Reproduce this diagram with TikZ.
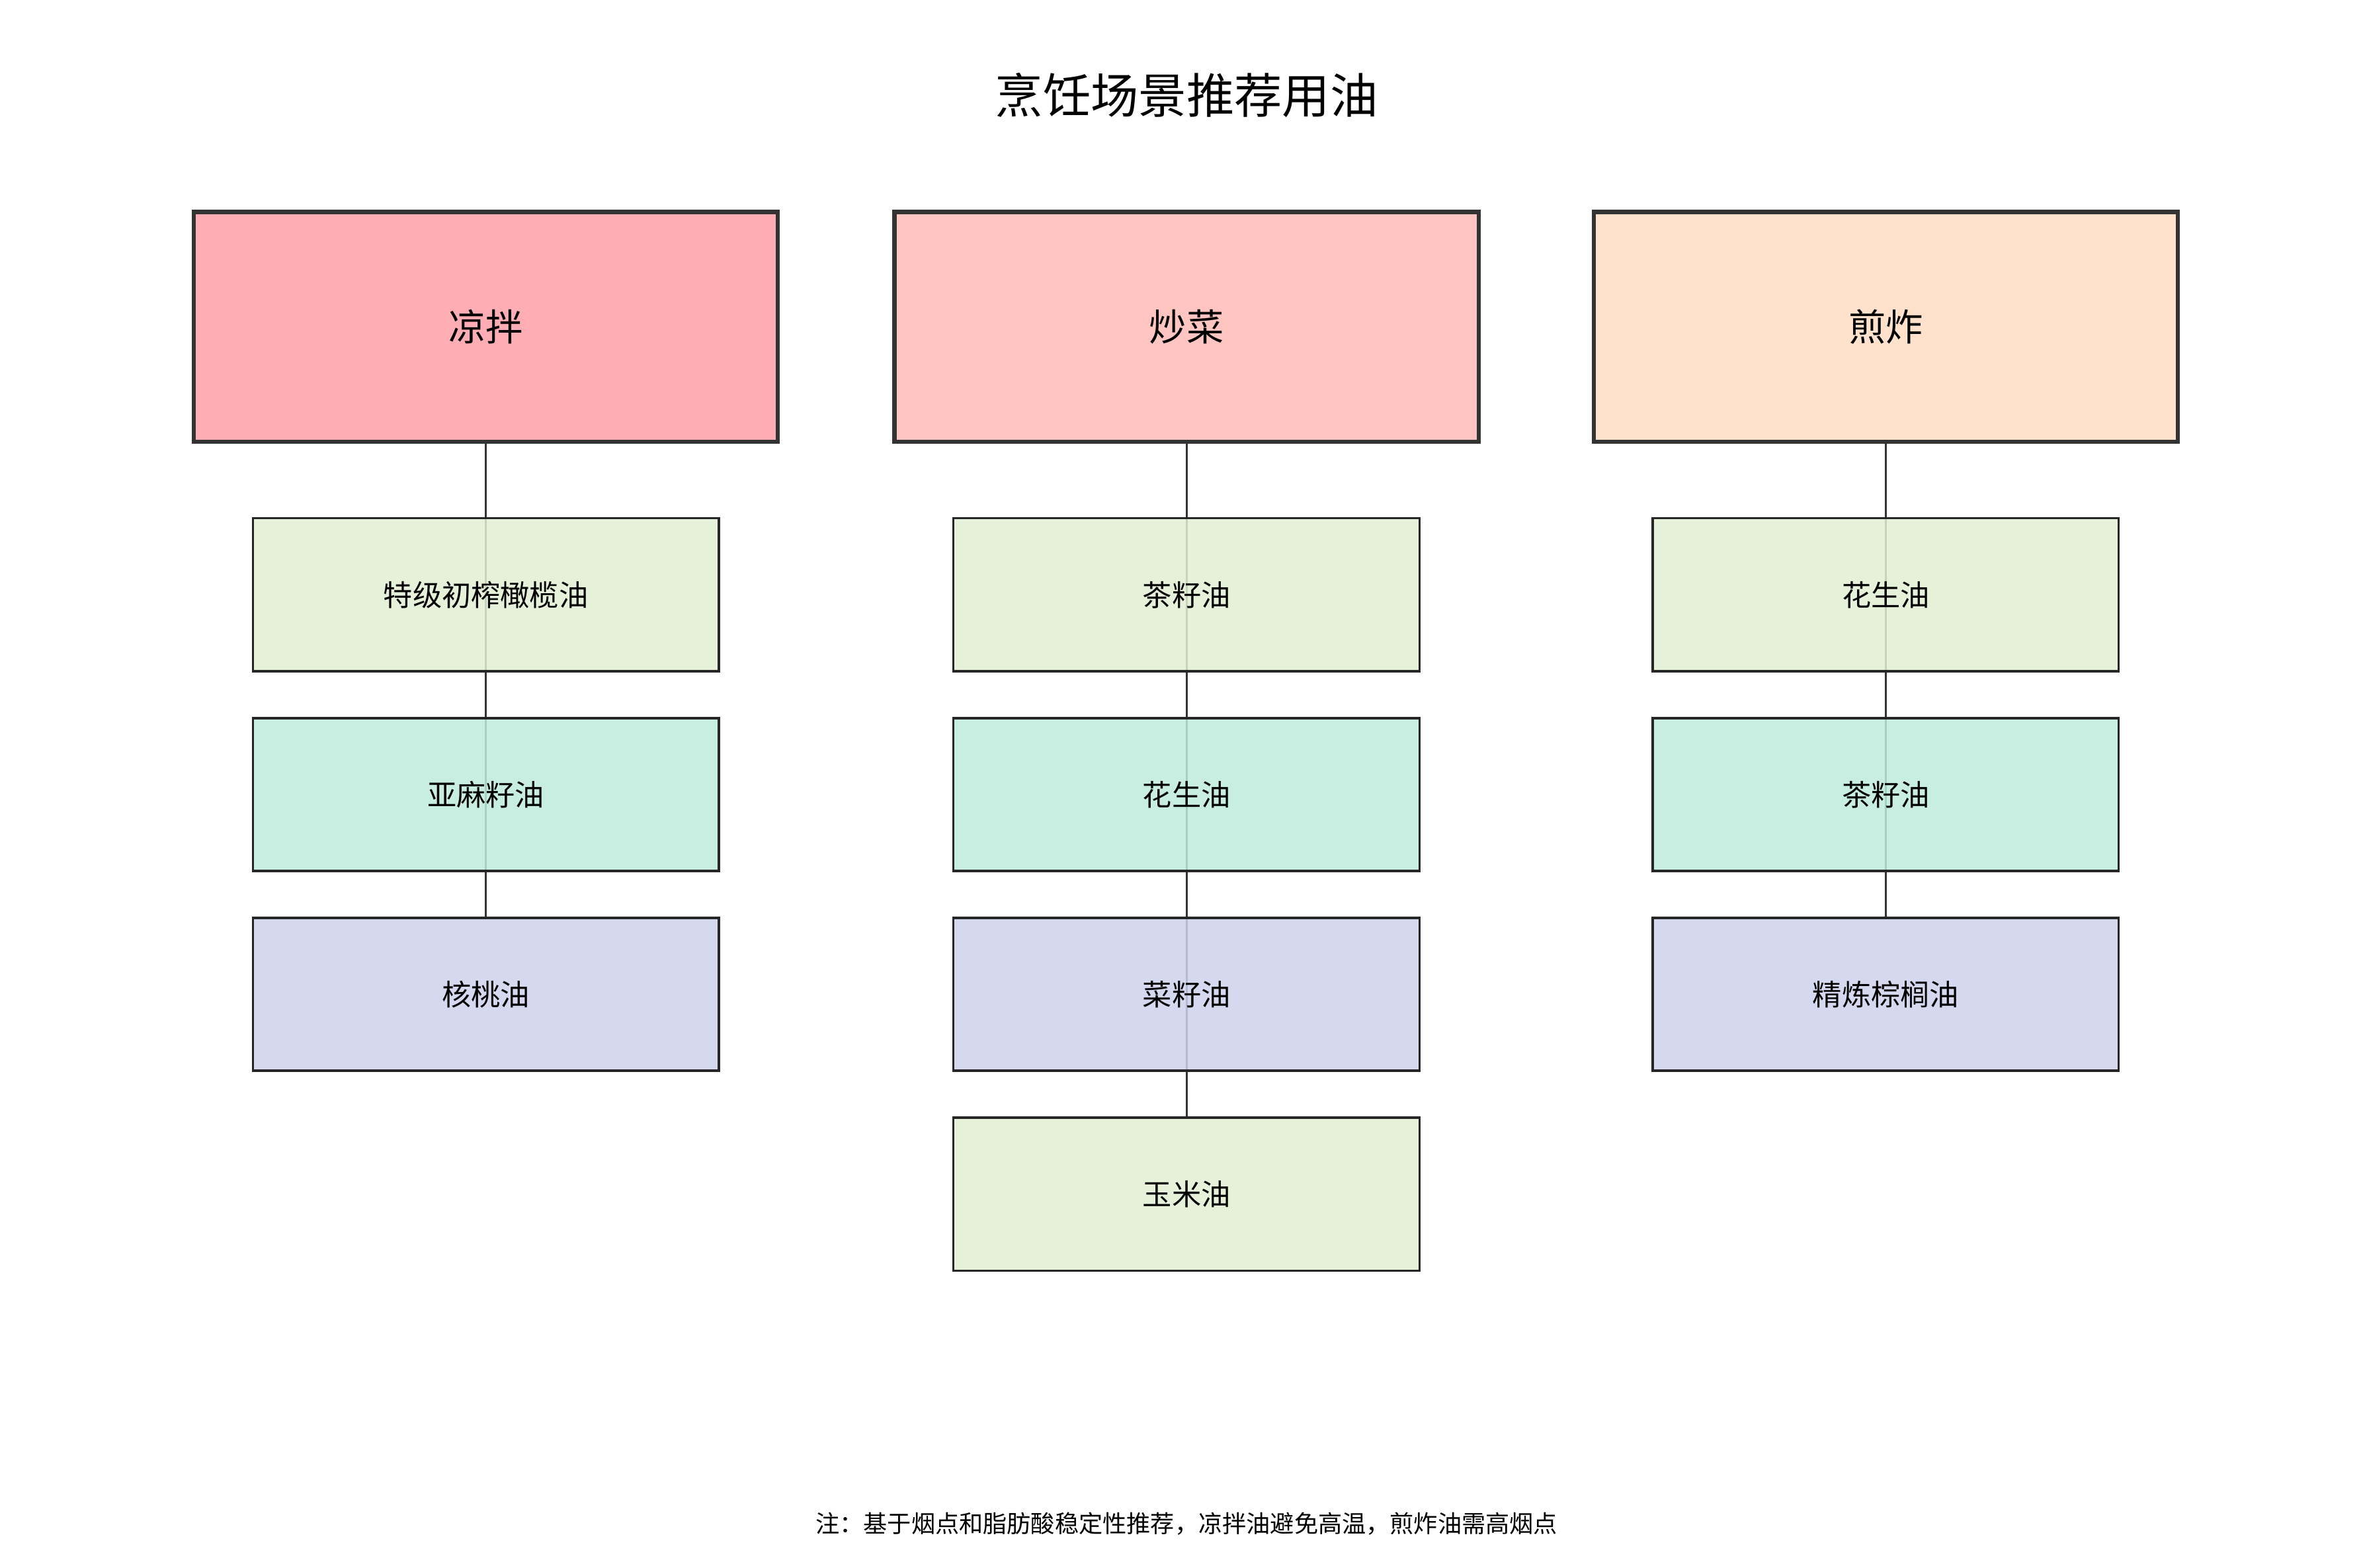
\documentclass[tikz,border=0pt]{standalone}
\usepackage{fontspec}
\setmainfont{Noto Sans CJK SC}
\definecolor{hdA}{HTML}{FFADB4}
\definecolor{hdB}{HTML}{FFC5C0}
\definecolor{hdC}{HTML}{FFE1CC}
\definecolor{oilG}{HTML}{E2EFD3}
\definecolor{oilT}{HTML}{BDEBDB}
\definecolor{oilL}{HTML}{CED2EC}
\tikzset{
  head/.style={draw=black!80, line width=1.6pt, minimum width=7.72cm, minimum height=3.04cm, font=\fontsize{14}{16}\selectfont},
  oil/.style={draw=black!85, line width=0.8pt, fill opacity=0.85, text opacity=1, minimum width=6.16cm, minimum height=2.02cm, font=\fontsize{11}{13}\selectfont},
  link/.style={draw=black!80, line width=0.8pt}
}
\begin{document}
\begin{tikzpicture}[x=0.02cm, y=-0.02cm]
\useasboundingbox (0,0) rectangle (1560,1036);
\node (title) at (784,63) {\fontsize{18}{20}\selectfont 烹饪场景推荐用油};
% 连线
\draw[link] (321,292) -- (321,607);
\draw[link] (784,292) -- (784,739);
\draw[link] (1246,292) -- (1246,607);
% 场景
\node[head, fill=hdA] (cold) at (321,216) {凉拌};
\node[head, fill=hdB] (stir) at (784,216) {炒菜};
\node[head, fill=hdC] (fry) at (1246,216) {煎炸};
% 凉拌
\node[oil, fill=oilG] (cold1) at (321,393) {特级初榨橄榄油};
\node[oil, fill=oilT] (cold2) at (321,525) {亚麻籽油};
\node[oil, fill=oilL] (cold3) at (321,657) {核桃油};
% 炒菜
\node[oil, fill=oilG] (stir1) at (784,393) {茶籽油};
\node[oil, fill=oilT] (stir2) at (784,525) {花生油};
\node[oil, fill=oilL] (stir3) at (784,657) {菜籽油};
\node[oil, fill=oilG] (stir4) at (784,789) {玉米油};
% 煎炸
\node[oil, fill=oilG] (fry1) at (1246,393) {花生油};
\node[oil, fill=oilT] (fry2) at (1246,525) {茶籽油};
\node[oil, fill=oilL] (fry3) at (1246,657) {精炼棕榈油};
% 注释
\node (note) at (784,1007) {\fontsize{9}{11}\selectfont 注：基于烟点和脂肪酸稳定性推荐，凉拌油避免高温，煎炸油需高烟点};
\end{tikzpicture}
\end{document}
